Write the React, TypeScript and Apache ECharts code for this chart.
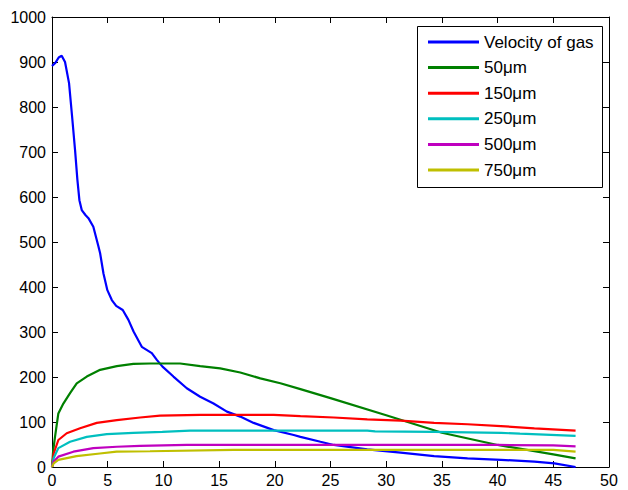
import React, { useEffect, useRef } from "react";
import * as echarts from "echarts";

const xTicks = { min: 0, max: 50, interval: 5 };
const yTicks = { min: 0, max: 1000, interval: 100 };

const seriesNames = ["Velocity of gas", "50μm", "150μm", "250μm", "500μm", "750μm"];
const seriesColors = ["#0000ff", "#008000", "#ff0000", "#00bfbf", "#bf00bf", "#bfbf00"];

const gasVelocity: number[][] = [
  [0, 891], [0.3, 898], [0.6, 910], [0.87, 914], [1.17, 900], [1.53, 853], [1.8, 780],
  [2.07, 704], [2.28, 638], [2.46, 593], [2.67, 571], [3.0, 560], [3.27, 553], [3.71, 534],
  [4.17, 490], [4.32, 475], [4.62, 430], [4.97, 393], [5.37, 371], [5.76, 358], [6.35, 349],
  [6.86, 327], [7.32, 301], [8.06, 267], [8.96, 253], [9.41, 238], [9.92, 223], [10.9, 201],
  [12.1, 175], [13.3, 156], [14.5, 141], [15.7, 123], [16.9, 112], [18.1, 98], [19.9, 82],
  [21.7, 71], [22.3, 67], [24.1, 56], [25.3, 49], [28.3, 39], [31.3, 32], [34.3, 24],
  [37.3, 19], [40.3, 16], [43.3, 12], [45.1, 8], [47, 0],
];
const p50: number[][] = [
  [0, 0], [0.1, 35], [0.27, 67], [0.57, 119], [1.02, 141], [1.62, 164], [2.22, 186],
  [3.12, 201], [4.32, 216], [5.82, 224], [7.3, 229], [8.8, 230], [11.5, 230], [13.3, 224],
  [15.1, 219], [16.9, 210], [18.7, 197], [20.5, 186], [22.3, 173], [25, 153], [30, 115],
  [35, 76], [40, 49], [45, 28], [47, 19],
];
const p150: number[][] = [
  [0, 0], [0.15, 30], [0.57, 60], [1.32, 75], [2.52, 86], [4.02, 98], [5.82, 104],
  [7.91, 110], [9.7, 114], [13.3, 116], [19.9, 116], [22.3, 113], [25.3, 110], [28.3, 106],
  [31.3, 103], [34.3, 98], [37.3, 95], [40.3, 91], [43.3, 86], [47, 81],
];
const p250: number[][] = [
  [0, 0], [0.15, 20], [0.57, 42], [1.62, 56], [3.12, 67], [4.92, 73], [7.3, 76],
  [9.9, 78], [12.4, 81], [28.3, 81], [29, 79], [34.3, 78], [40.3, 76], [42, 74], [47, 69],
];
const p500: number[][] = [
  [0, 0], [0.15, 12], [0.57, 23], [1.92, 34], [3.71, 42], [5.82, 45], [7.9, 47],
  [12.1, 49], [40, 49], [45, 48], [47, 46],
];
const p750: number[][] = [
  [0, 0], [0.15, 8], [0.57, 16], [2.2, 24], [4.3, 30], [5.8, 34], [8.8, 35],
  [16.3, 38], [45, 38], [47, 34],
];

const allData = [gasVelocity, p50, p150, p250, p500, p750];

const FONT = "'Liberation Sans', Arial, sans-serif";

export default function App() {
  const ref = useRef<HTMLDivElement>(null);
  useEffect(() => {
    if (!ref.current) return;
    const chart = echarts.init(ref.current, null, { renderer: "svg" });
    const axisLine = { show: true, onZero: false, lineStyle: { color: "#000", width: 1 } };
    const tick = { show: true, inside: true, length: 6, lineStyle: { color: "#000" } };
    const fmt = (v: number) => String(v);
    chart.setOption({
      animation: false,
      backgroundColor: "#fff",
      grid: { left: 52, right: 19, top: 17, bottom: 23, containLabel: false },
      xAxis: [
        {
          type: "value", position: "bottom", ...xTicks,
          axisLine, axisTick: tick, splitLine: { show: false },
          axisLabel: { color: "#000", fontSize: 16, fontFamily: FONT, margin: 5, formatter: fmt },
        },
        {
          type: "value", position: "top", ...xTicks,
          axisLine, axisTick: tick, splitLine: { show: false },
          axisLabel: { show: false },
        },
      ],
      yAxis: [
        {
          type: "value", position: "left", ...yTicks,
          axisLine, axisTick: tick, splitLine: { show: false },
          axisLabel: { color: "#000", fontSize: 16, fontFamily: FONT, margin: 6, formatter: fmt },
        },
        {
          type: "value", position: "right", ...yTicks,
          axisLine, axisTick: tick, splitLine: { show: false },
          axisLabel: { show: false },
        },
      ],
      legend: {
        show: true,
        orient: "vertical",
        left: 417,
        top: 26,
        padding: [6.5, 5, 5, 11],
        itemWidth: 51,
        itemHeight: 3,
        itemGap: 6.6,
        icon: "rect",
        selectedMode: false,
        z: 10,
        textStyle: { color: "#000", fontSize: 17, fontFamily: FONT, lineHeight: 19 },
        data: seriesNames,
      },
      graphic: [
        {
          type: "rect",
          z: 5,
          shape: { x: 417.5, y: 26.5, width: 185, height: 161 },
          style: { fill: "#fff", stroke: "#000", lineWidth: 1 },
        },
      ],
      series: allData.map((d, i) => ({
        name: seriesNames[i],
        type: "line",
        data: d,
        xAxisIndex: 0,
        yAxisIndex: 0,
        showSymbol: false,
        symbol: "none",
        color: seriesColors[i],
        lineStyle: { color: seriesColors[i], width: 2.2 },
        itemStyle: { color: seriesColors[i] },
      })),
    });
    return () => chart.dispose();
  }, []);
  return (
    <div
      ref={ref}
      style={{ position: "fixed", left: 0, top: 0, width: 628, height: 490, background: "#fff" }}
    />
  );
}
